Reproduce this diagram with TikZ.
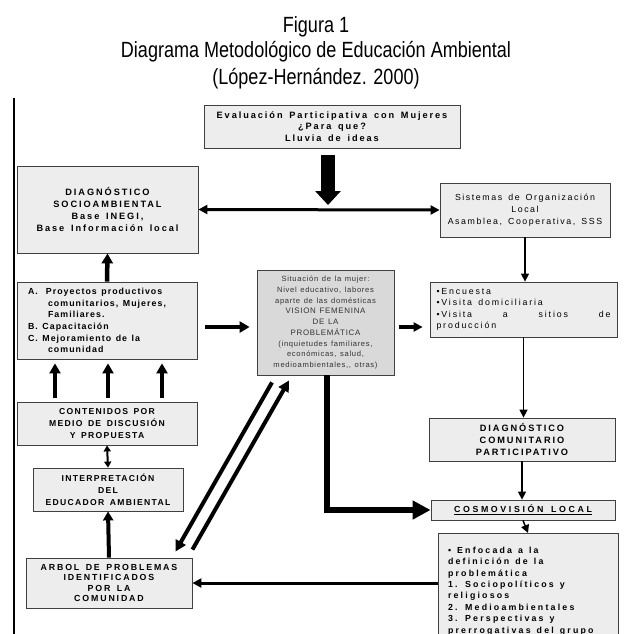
\documentclass[tikz,border=0pt]{standalone}
\usepackage{fontspec}
\usetikzlibrary{arrows.meta}
\setmainfont{Liberation Sans}
\newfontfamily\bx[LetterSpace=21,WordSpace=1.5]{Liberation Sans}
\newfontfamily\bxw[LetterSpace=30,WordSpace=1.5]{Liberation Sans}
\newfontfamily\bxe[LetterSpace=25,WordSpace=1.3]{Liberation Sans}
\newfontfamily\bxn[LetterSpace=15,WordSpace=1.5]{Liberation Sans}
\newfontfamily\px[LetterSpace=12,WordSpace=1.3]{Liberation Sans}
\newfontfamily\rx[LetterSpace=18,WordSpace=1.5]{Liberation Sans}
\newfontfamily\sx[LetterSpace=9,WordSpace=1.3]{Liberation Sans}
\newfontfamily\tf[FakeStretch=0.82]{Liberation Sans}
\newcommand\resetsp{\spaceskip=0pt\xspaceskip=0pt\relax}
\definecolor{lightg}{RGB}{237,237,237}
\definecolor{darkg}{RGB}{217,217,217}
\tikzset{
  box/.style={draw=black!75, fill=lightg, line width=0.8pt, inner sep=0pt, align=center,
    font=\bx\fontsize{9.2}{11.7}\selectfont},
  ttl/.style={font=\tf\fontsize{22}{24}\selectfont, inner sep=0pt, anchor=base},
  thinarr/.style={line width=1.5pt, -{Triangle[width=8pt,length=8pt]}},
  medarr/.style={line width=3pt, -{Triangle[width=9pt,length=9pt]}},
  fatarr/.style={line width=4.5pt, -{Triangle[width=11pt,length=10pt]}},
  diagarr/.style={line width=4pt, -{Triangle[width=11pt,length=11pt]}},
  hugearr/.style={line width=6pt, -{Triangle[width=18pt,length=18pt]}},
  bigarr/.style={line width=14pt, -{Triangle[width=25pt,length=14pt]}},
}
\begin{document}
\begin{tikzpicture}[x=1pt,y=-1pt]
\useasboundingbox (0,0) rectangle (632,634);
% title
\node[ttl] (t1) at (316,33) {Figura 1};
\node[ttl] (t2) at (316,58) {Diagrama Metodológico de Educación Ambiental};
\node[ttl] (t3) at (316,84) {(López-Hernández. 2000)};
% left rule
\draw[line width=1.5pt] (14,98) -- (14,640);
% boxes
\node[box, minimum width=256pt, minimum height=43pt] (eval) at (332,126.5)
  {\bfseries Evaluación Participativa con Mujeres\\\bfseries ¿Para que?\\\bfseries Lluvia de ideas};
\node[box, minimum width=181pt, minimum height=87pt] (socio) at (107.5,209.5)
  {\bfseries DIAGNÓSTICO\\\bfseries SOCIOAMBIENTAL\\\bfseries Base INEGI,\\\bfseries Base Información local};
\node[box, minimum width=170pt, minimum height=54pt, font=\rx\fontsize{8.8}{12}\selectfont] (sist) at (525,210)
  {Sistemas de Organización\\Local\\Asamblea, Cooperativa, SSS};
\node[box, text width=174pt, inner xsep=6.5pt, minimum height=55pt, align=left, font=\bx\fontsize{8.8}{11.5}\selectfont] (enc) at (523.5,309.5)
  {\resetsp•Encuesta\\•Visita domiciliaria\\\makebox[\linewidth][s]{•Visita a sitios de}\\producción};
\node[box, minimum width=186pt, minimum height=43pt] (dcom) at (522,439.5)
  {\bfseries DIAGNÓSTICO\\\bfseries COMUNITARIO\\\bfseries PARTICIPATIVO};
\node[box, minimum width=184pt, minimum height=20pt, font=\bxw\fontsize{8.8}{11}\selectfont] (cosmo) at (523,510)
  {\bfseries\underline{COSMOVISIÓN LOCAL}};
\node[box, text width=160pt, inner xsep=10pt, inner ysep=5pt, minimum height=115pt, align=left, anchor=north,
  font=\bxe\fontsize{8.8}{11.4}\selectfont] (enf) at (528,533)
  {\resetsp\bfseries • Enfocada a la\\\bfseries definición de la\\\bfseries problemática\\\bfseries 1. Sociopolíticos y\\\bfseries religiosos\\\bfseries 2. Medioambientales\\\bfseries 3. Perspectivas y\\\bfseries prerrogativas del grupo};
\node[box, minimum width=166pt, minimum height=50pt, font=\bx\fontsize{8.8}{10.5}\selectfont] (arbol) at (109,583)
  {\bfseries ARBOL DE PROBLEMAS\\\bfseries IDENTIFICADOS\\\bfseries POR LA\\\bfseries COMUNIDAD};
\node[box, minimum width=150pt, minimum height=43pt, font=\bxn\fontsize{8.6}{12}\selectfont] (interp) at (108,489.5)
  {\bfseries INTERPRETACIÓN\\\bfseries DEL\\\bfseries EDUCADOR AMBIENTAL};
\node[box, minimum width=180pt, minimum height=43pt, font=\bxn\fontsize{8.6}{11.8}\selectfont] (cont) at (107,423.5)
  {\bfseries CONTENIDOS POR\\\bfseries MEDIO DE DISCUSIÓN\\\bfseries Y PROPUESTA};
\node[box, text width=158pt, inner xsep=11pt, minimum height=77pt, align=left, font=\px\fontsize{8.8}{11.6}\selectfont] (proy) at (107,320.5)
  {\resetsp\bfseries A.\hspace{8pt}Proyectos productivos\\\bfseries\hspace*{20pt}comunitarios, Mujeres,\\\bfseries\hspace*{20pt}Familiares.\\\bfseries B. Capacitación\\\bfseries C. Mejoramiento de la\\\bfseries\hspace*{20pt}comunidad};
\node[box, fill=darkg, minimum width=137pt, minimum height=105pt, text=black!80,
  font=\sx\fontsize{7.6}{10.75}\selectfont] (sit) at (325.5,322.5)
  {Situación de la mujer:\\Nivel educativo, labores\\aparte de las domésticas\\{\fontsize{7.9}{10.75}\selectfont VISION FEMENINA}\\{\fontsize{7.9}{10.75}\selectfont DE LA}\\{\fontsize{7.9}{10.75}\selectfont PROBLEMÁTICA}\\(inquietudes familiares,\\económicas, salud,\\medioambientales,, otras)};
% connectors
\coordinate (bigtip) at (328,205);
\draw[bigarr] ([xshift=-4pt,yshift=-7pt]eval.south) -- (bigtip);
\draw[medarr, {Triangle[width=9pt,length=9pt]}-{Triangle[width=9pt,length=9pt]}] (socio.east) -- (sist.west);
\draw[thinarr] (sist.south) -- (sist.south |- enc.north);
\draw[thinarr] (enc.south) -- (enc.south |- dcom.north);
\draw[thinarr] (dcom.south) -- (dcom.south |- cosmo.north);
\draw[thinarr] (cosmo.south) -- (enf.north);
\draw[medarr] (arbol.east -| enf.west) -- (arbol.east);
\draw[line width=4pt, -{Triangle[width=10pt,length=9pt]}] (arbol.north) -- (interp.south);
\draw[line width=2pt, {Triangle[width=7pt,length=6pt]}-{Triangle[width=7pt,length=6pt]}] (cont.south) -- (interp.north);
\draw[fatarr, shorten <=4pt, shorten >=4pt] ([xshift=-52pt]cont.north) -- ([xshift=-52pt]proy.south);
\draw[fatarr, shorten <=4pt, shorten >=4pt] ([xshift=1pt]cont.north) -- ([xshift=1pt]proy.south);
\draw[fatarr, shorten <=4pt, shorten >=4pt] ([xshift=55pt]cont.north) -- ([xshift=55pt]proy.south);
\draw[fatarr] (proy.north) -- (socio.south);
\draw[fatarr, line width=4pt, shorten <=8pt, shorten >=7pt] ([yshift=-6.5pt]proy.east) -- ([yshift=-6.5pt]proy.east -| sit.west);
\draw[line width=3.5pt, -{Triangle[width=9pt,length=9pt]}, shorten <=5pt, shorten >=7pt] ([yshift=-4.5pt]sit.east) -- ([yshift=-4.5pt]sit.east -| enc.west);
\draw[hugearr] ([xshift=1.5pt]sit.south) |- (cosmo.west);
\draw[diagarr] ([xshift=-53.5pt,yshift=-7pt]sit.south) -- ([xshift=-17pt,yshift=6pt]arbol.north east);
\draw[diagarr] ([yshift=8pt]arbol.north east) -- ([xshift=-36.5pt,yshift=-5pt]sit.south);
\end{tikzpicture}
\end{document}
